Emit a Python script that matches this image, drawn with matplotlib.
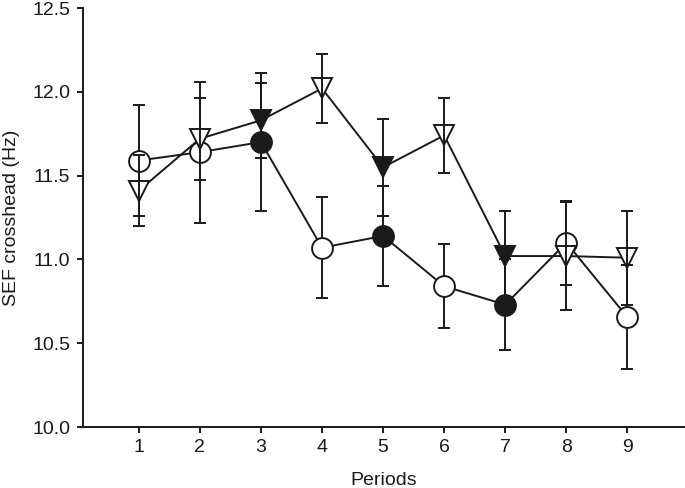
import matplotlib
matplotlib.use("Agg")
import matplotlib.pyplot as plt
import numpy as np

plt.rcParams['font.family'] = ['Liberation Sans', 'DejaVu Sans']

periods = [1, 2, 3, 4, 5, 6, 7, 8, 9]
circle_mean = [11.59, 11.64, 11.70, 11.07, 11.14, 10.84, 10.73, 11.10, 10.655]
circle_err = [0.33, 0.42, 0.41, 0.30, 0.30, 0.25, 0.27, 0.25, 0.31]
circle_filled = [False, False, True, False, True, False, True, False, False]
tri_mean = [11.41, 11.72, 11.83, 12.02, 11.55, 11.74, 11.02, 11.02, 11.01]
tri_err = [0.21, 0.245, 0.225, 0.205, 0.29, 0.225, 0.27, 0.32, 0.28]
tri_filled = [False, False, True, False, True, False, True, False, False]
yticks = [10.0, 10.5, 11.0, 11.5, 12.0, 12.5]

fig = plt.figure(figsize=(6.85, 4.88), dpi=100)
ax = fig.add_axes([0.121, 0.125, 0.877, 0.8586])

col = '#1a1a1a'
lw = 1.4
# circle series: error bars beneath markers
ax.errorbar(periods, circle_mean, yerr=circle_err, fmt='none', ecolor=col, elinewidth=lw,
            capsize=4.5, capthick=lw, zorder=1)
ax.plot(periods, circle_mean, '-', color=col, lw=lw, zorder=2)
for x, y, f in zip(periods, circle_mean, circle_filled):
    ax.plot([x], [y], marker='o', ms=15, mfc=col if f else 'white', mec=col,
            mew=lw, ls='none', zorder=3)
# triangle series: error bars drawn over markers
ax.plot(periods, tri_mean, '-', color=col, lw=lw, zorder=4)
for x, y, f in zip(periods, tri_mean, tri_filled):
    ax.plot([x], [y], marker='v', ms=15, mfc=col if f else 'white', mec=col,
            mew=lw, ls='none', zorder=5)
ax.errorbar(periods, tri_mean, yerr=tri_err, fmt='none', ecolor=col, elinewidth=lw,
            capsize=4.5, capthick=lw, zorder=6)

ax.set_xlim(0.085, 9.92)
ax.set_ylim(10.0, 12.5)
ax.set_xticks(periods)
ax.set_yticks(yticks)
ax.set_yticklabels([f"{v:.1f}" for v in yticks])
ax.spines['top'].set_visible(False)
ax.spines['right'].set_visible(False)
for s in ['left', 'bottom']:
    ax.spines[s].set_linewidth(lw)
    ax.spines[s].set_color(col)
ax.tick_params(axis='both', direction='out', length=4.5, width=lw, labelsize=14,
               colors=col, labelcolor=col, pad=4.5)
ax.set_xlabel('Periods', fontsize=14, color=col, labelpad=11)
ax.set_ylabel('SEF crosshead (Hz)', fontsize=14, color=col, labelpad=9)

fig.savefig('out.png', dpi=100)
